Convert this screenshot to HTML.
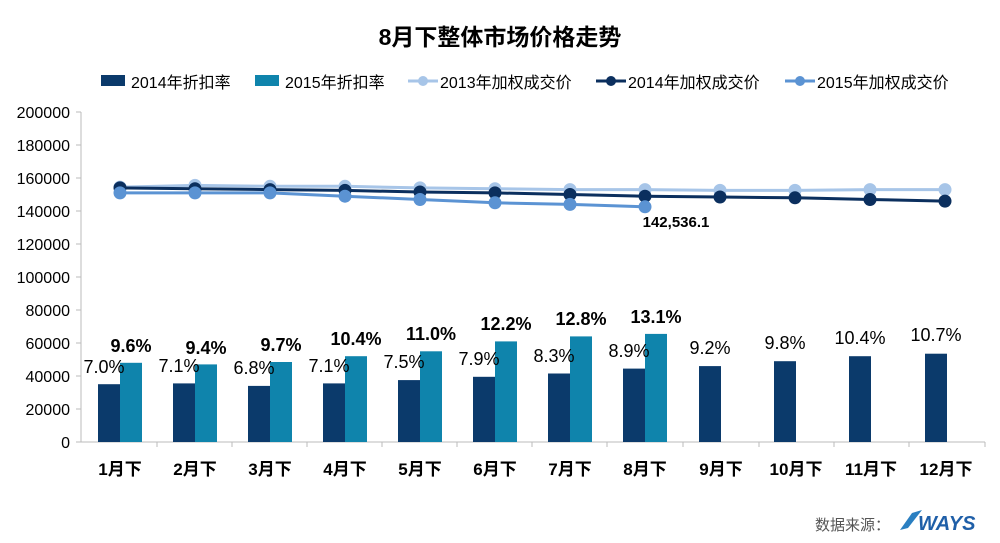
<!DOCTYPE html><html><head><meta charset="utf-8"><style>body{margin:0;background:#fff}svg{display:block;font-family:"Liberation Sans","Noto Sans CJK SC",sans-serif}</style></head><body>
<svg width="1000" height="543" viewBox="0 0 1000 543">
<text x="500" y="45" text-anchor="middle" font-size="23" font-weight="bold" fill="#000">8月下整体市场价格走势</text>
<g font-size="16" fill="#000">
<rect x="101" y="75" width="24" height="11" fill="#0b3a6b"/><text x="131" y="88">2014年折扣率</text>
<rect x="255" y="75" width="24" height="11" fill="#0f84ac"/><text x="285" y="88">2015年折扣率</text>
<line x1="408" y1="81" x2="438" y2="81" stroke="#a7c5e8" stroke-width="3"/><circle cx="423" cy="81" r="5" fill="#a7c5e8"/><text x="440" y="88">2013年加权成交价</text>
<line x1="596" y1="81" x2="626" y2="81" stroke="#0b2f5e" stroke-width="3"/><circle cx="611" cy="81" r="5" fill="#0b2f5e"/><text x="628" y="88">2014年加权成交价</text>
<line x1="785" y1="81" x2="815" y2="81" stroke="#5b93d3" stroke-width="3"/><circle cx="800" cy="81" r="5" fill="#5b93d3"/><text x="817" y="88">2015年加权成交价</text>
</g>
<g font-size="16" fill="#000" text-anchor="end">
<text x="70" y="118">200000</text><text x="70" y="151">180000</text><text x="70" y="184">160000</text><text x="70" y="217">140000</text><text x="70" y="250">120000</text><text x="70" y="283">100000</text><text x="70" y="316">80000</text><text x="70" y="349">60000</text><text x="70" y="382">40000</text><text x="70" y="415">20000</text><text x="70" y="448">0</text>
</g>
<g stroke="#bbb"><line x1="81" y1="112" x2="81" y2="442"/><line x1="81" y1="442" x2="985" y2="442"/>
<line x1="76" y1="112" x2="81" y2="112"/><line x1="76" y1="145" x2="81" y2="145"/><line x1="76" y1="178" x2="81" y2="178"/><line x1="76" y1="211" x2="81" y2="211"/><line x1="76" y1="244" x2="81" y2="244"/><line x1="76" y1="277" x2="81" y2="277"/><line x1="76" y1="310" x2="81" y2="310"/><line x1="76" y1="343" x2="81" y2="343"/><line x1="76" y1="376" x2="81" y2="376"/><line x1="76" y1="409" x2="81" y2="409"/><line x1="76" y1="442" x2="81" y2="442"/>
<line x1="157" y1="442" x2="157" y2="447"/><line x1="232" y1="442" x2="232" y2="447"/><line x1="307" y1="442" x2="307" y2="447"/><line x1="382" y1="442" x2="382" y2="447"/><line x1="457" y1="442" x2="457" y2="447"/><line x1="532" y1="442" x2="532" y2="447"/><line x1="607" y1="442" x2="607" y2="447"/><line x1="683" y1="442" x2="683" y2="447"/><line x1="759" y1="442" x2="759" y2="447"/><line x1="834" y1="442" x2="834" y2="447"/><line x1="909" y1="442" x2="909" y2="447"/><line x1="985" y1="442" x2="985" y2="447"/></g>
<g fill="#0b3a6b">
<rect x="98" y="384.2" width="22" height="57.8"/><rect x="173" y="383.4" width="22" height="58.6"/><rect x="248" y="385.9" width="22" height="56.1"/><rect x="323" y="383.4" width="22" height="58.6"/><rect x="398" y="380.1" width="22" height="61.9"/><rect x="473" y="376.8" width="22" height="65.2"/><rect x="548" y="373.5" width="22" height="68.5"/><rect x="623" y="368.6" width="22" height="73.4"/><rect x="699" y="366.1" width="22" height="75.9"/><rect x="774" y="361.2" width="22" height="80.8"/><rect x="849" y="356.2" width="22" height="85.8"/><rect x="925" y="353.7" width="22" height="88.3"/>
</g>
<g fill="#0f84ac">
<rect x="120" y="362.8" width="22" height="79.2"/><rect x="195" y="364.4" width="22" height="77.6"/><rect x="270" y="362" width="22" height="80"/><rect x="345" y="356.2" width="22" height="85.8"/><rect x="420" y="351.3" width="22" height="90.7"/><rect x="495" y="341.4" width="22" height="100.6"/><rect x="570" y="336.4" width="22" height="105.6"/><rect x="645" y="333.9" width="22" height="108.1"/>
</g>
<g font-size="18" fill="#000" text-anchor="middle">
<text x="104" y="373">7.0%</text><text x="179" y="372">7.1%</text><text x="254" y="374">6.8%</text><text x="329" y="372">7.1%</text><text x="404" y="368">7.5%</text><text x="479" y="365">7.9%</text><text x="554" y="362">8.3%</text><text x="629" y="357">8.9%</text><text x="710" y="354">9.2%</text><text x="785" y="349">9.8%</text><text x="860" y="344">10.4%</text><text x="936" y="341">10.7%</text>
</g>
<g font-size="18" font-weight="bold" fill="#000" text-anchor="middle">
<text x="131" y="352">9.6%</text><text x="206" y="354">9.4%</text><text x="281" y="351">9.7%</text><text x="356" y="345">10.4%</text><text x="431" y="340">11.0%</text><text x="506" y="330">12.2%</text><text x="581" y="325">12.8%</text><text x="656" y="323">13.1%</text>
</g>
<g stroke="#a7c5e8" fill="#a7c5e8" stroke-width="3">
<polyline fill="none" points="120,187.1 195,185.4 270,186.3 345,186.3 420,187.9 495,188.7 570,189.6 645,189.6 720,190.4 795,190.4 870,189.6 945,189.6"/>
<circle cx="120" cy="187.1" r="5"/><circle cx="195" cy="185.4" r="5"/><circle cx="270" cy="186.3" r="5"/><circle cx="345" cy="186.3" r="5"/><circle cx="420" cy="187.9" r="5"/><circle cx="495" cy="188.7" r="5"/><circle cx="570" cy="189.6" r="5"/><circle cx="645" cy="189.6" r="5"/><circle cx="720" cy="190.4" r="5"/><circle cx="795" cy="190.4" r="5"/><circle cx="870" cy="189.6" r="5"/><circle cx="945" cy="189.6" r="5"/>
</g>
<g stroke="#0b2f5e" fill="#0b2f5e" stroke-width="3">
<polyline fill="none" points="120,187.9 195,188.7 270,189.6 345,190.4 420,192 495,192.9 570,194.5 645,196.2 720,197 795,197.8 870,199.5 945,201.1"/>
<circle cx="120" cy="187.9" r="5"/><circle cx="195" cy="188.7" r="5"/><circle cx="270" cy="189.6" r="5"/><circle cx="345" cy="190.4" r="5"/><circle cx="420" cy="192" r="5"/><circle cx="495" cy="192.9" r="5"/><circle cx="570" cy="194.5" r="5"/><circle cx="645" cy="196.2" r="5"/><circle cx="720" cy="197" r="5"/><circle cx="795" cy="197.8" r="5"/><circle cx="870" cy="199.5" r="5"/><circle cx="945" cy="201.1" r="5"/>
</g>
<g stroke="#5b93d3" fill="#5b93d3" stroke-width="3">
<polyline fill="none" points="120,192.9 195,192.9 270,192.9 345,196.2 420,199.5 495,202.8 570,204.4 645,206.8"/>
<circle cx="120" cy="192.9" r="5"/><circle cx="195" cy="192.9" r="5"/><circle cx="270" cy="192.9" r="5"/><circle cx="345" cy="196.2" r="5"/><circle cx="420" cy="199.5" r="5"/><circle cx="495" cy="202.8" r="5"/><circle cx="570" cy="204.4" r="5"/><circle cx="645" cy="206.8" r="5"/>
</g>
<text x="676" y="227" text-anchor="middle" font-size="15" font-weight="bold">142,536.1</text>
<g font-size="17" font-weight="bold" fill="#000" text-anchor="middle">
<text x="120" y="475">1月下</text><text x="195" y="475">2月下</text><text x="270" y="475">3月下</text><text x="345" y="475">4月下</text><text x="420" y="475">5月下</text><text x="495" y="475">6月下</text><text x="570" y="475">7月下</text><text x="645" y="475">8月下</text><text x="721" y="475">9月下</text><text x="796" y="475">10月下</text><text x="871" y="475">11月下</text><text x="946" y="475">12月下</text>
</g>
<text x="815" y="530" font-size="15" fill="#555">数据来源：</text>
<path d="M900 530 L912 513 L922 510 L908 528 Z" fill="#2a7fc1"/>
<text x="918" y="530" font-size="20" font-weight="bold" font-style="italic" fill="#1f5fa8">WAYS</text>
</svg></body></html>
